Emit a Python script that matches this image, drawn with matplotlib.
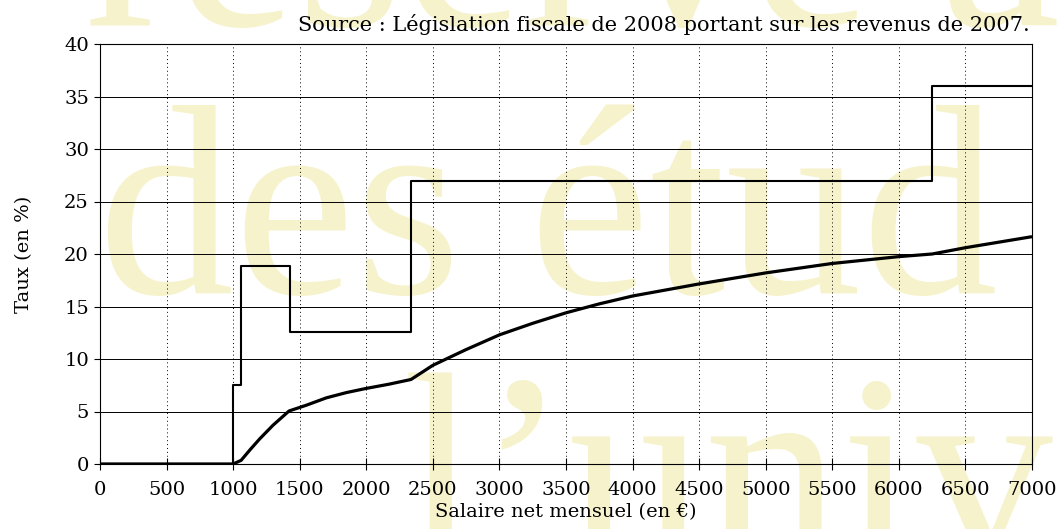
import matplotlib
matplotlib.use("Agg")
import matplotlib.pyplot as plt

# tax rate bands (marginal rate, step function)
band_edges = [0, 1000, 1060, 1425, 2335, 6250, 7000]
band_rates = [0, 7.5, 18.9, 12.6, 27, 36]

# average rate
avg_x = [0, 1000, 1060, 1130, 1200, 1300, 1420, 1550, 1700, 1850, 2000, 2170, 2336,
         2500, 2750, 3000, 3250, 3500, 3750, 4000, 4500, 5000, 5500, 6000, 6250, 6500, 7000]
avg_y = [0, 0, 0.35, 1.4, 2.4, 3.7, 5.05, 5.6, 6.3, 6.8, 7.2, 7.6, 8.05,
         9.4, 10.9, 12.3, 13.4, 14.4, 15.25, 16.0, 17.15, 18.2, 19.1, 19.75, 20.0, 20.6, 21.65]

x_ticks = list(range(0, 7001, 500))
y_ticks = list(range(0, 41, 5))

W, H = 1061, 529
plt.rcParams["font.family"] = ["DejaVu Serif"]

fig = plt.figure(figsize=(W / 100, H / 100), dpi=100)

# watermark behind the chart
wm_color = "#f6f3cc"
for txt, xp, yp in [("réservé à", 85, 25), ("des étud", 98, 293), ("l\u2019univ", 402, 561)]:
    fig.text(xp / W, 1 - yp / H, txt, fontsize=196, color=wm_color,
             family="Liberation Serif", va="baseline", ha="left", zorder=-5)

ax = fig.add_axes([100 / W, (H - 464) / H, (1032 - 100) / W, (464 - 44) / H])
ax.patch.set_alpha(0)

step_x = band_edges
step_y = band_rates + [band_rates[-1]]
ax.step(step_x, step_y, where="post", color="black", lw=1.5, zorder=3)
ax.plot(avg_x, avg_y, color="black", lw=2.3, zorder=4, solid_capstyle="butt")

ax.set_xlim(0, 7000)
ax.set_ylim(0, 40)
ax.set_xticks(x_ticks)
ax.set_yticks(y_ticks)
ax.tick_params(axis="x", direction="inout", length=8, width=0.8, labelsize=14, pad=8)
ax.tick_params(axis="y", direction="out", length=4, width=0.8, labelsize=14, pad=4)

for y in y_ticks[1:-1]:
    ax.axhline(y, color="black", lw=0.7, zorder=2)
for x in x_ticks[1:]:
    ax.axvline(x, color="black", lw=0.7, ls=(0, (1, 3)), zorder=2)

for s in ax.spines.values():
    s.set_linewidth(0.8)
    s.set_zorder(5)

ax.set_xlabel("Salaire net mensuel (en €)", fontsize=14, labelpad=3)
ax.set_ylabel("Taux (en %)", fontsize=14, labelpad=22)

fig.text(1030 / W, 1 - 31 / H,
         "Source : Législation fiscale de 2008 portant sur les revenus de 2007.",
         fontsize=15, ha="right", va="baseline")

fig.savefig("out.png", dpi=100)
